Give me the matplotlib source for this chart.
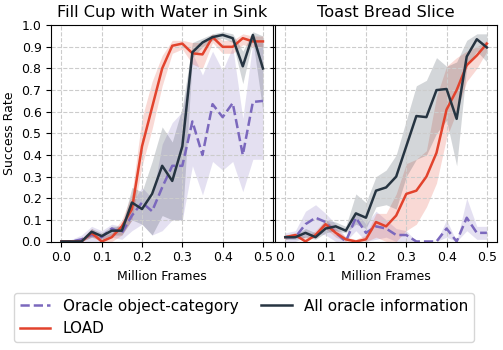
import numpy as np
import matplotlib
matplotlib.use("Agg")
import matplotlib.pyplot as plt

frames = [0.0, 0.025, 0.05, 0.075, 0.1, 0.125, 0.15, 0.175, 0.2, 0.225, 0.25,
          0.275, 0.3, 0.325, 0.35, 0.375, 0.4, 0.425, 0.45, 0.475, 0.5]

titles = ["Fill Cup with Water in Sink", "Toast Bread Slice"]
labels = ["Oracle object-category", "LOAD", "All oracle information"]

# Fill Cup with Water in Sink: mean, lower and upper band
cup_cat = [0, 0, 0.01, 0.03, 0.02, 0.06, 0.04, 0.12, 0.18, 0.14, 0.25,
           0.35, 0.35, 0.555, 0.40, 0.635, 0.575, 0.64, 0.40, 0.645, 0.65]
cup_cat_lo = [0, 0, 0, 0, 0, 0.02, 0.01, 0.05, 0.08, 0.03, 0.05,
              0.1, 0.1, 0.35, 0.215, 0.37, 0.33, 0.37, 0.23, 0.38, 0.38]
cup_cat_hi = [0, 0.01, 0.03, 0.07, 0.05, 0.08, 0.07, 0.18, 0.25, 0.2, 0.45,
              0.55, 0.6, 0.87, 0.77, 0.88, 0.79, 0.9, 0.57, 0.92, 0.92]
cup_load = [0, 0, 0, 0.04, 0.0, 0.02, 0.07, 0.15, 0.44, 0.62, 0.80,
            0.905, 0.915, 0.87, 0.865, 0.945, 0.90, 0.90, 0.94, 0.925, 0.925]
cup_load_lo = [0, 0, 0, 0.02, 0, 0, 0.03, 0.1, 0.35, 0.52, 0.72,
               0.87, 0.89, 0.82, 0.8, 0.92, 0.87, 0.87, 0.91, 0.9, 0.9]
cup_load_hi = [0, 0, 0.01, 0.06, 0.02, 0.04, 0.1, 0.22, 0.57, 0.74, 0.86,
               0.93, 0.93, 0.92, 0.92, 0.96, 0.93, 0.93, 0.96, 0.95, 0.95]
cup_all = [0, 0, 0, 0.045, 0.025, 0.05, 0.05, 0.18, 0.15, 0.22, 0.35,
           0.28, 0.44, 0.875, 0.92, 0.945, 0.955, 0.94, 0.81, 0.955, 0.80]
cup_all_lo = [0, 0, 0, 0.02, 0.01, 0.03, 0.03, 0.1, 0.08, 0.03, 0.12,
              0.1, 0.1, 0.85, 0.9, 0.93, 0.94, 0.92, 0.73, 0.93, 0.6]
cup_all_hi = [0, 0, 0.01, 0.06, 0.04, 0.07, 0.07, 0.25, 0.23, 0.37, 0.53,
              0.46, 0.62, 0.92, 0.94, 0.96, 0.97, 0.96, 0.88, 0.97, 0.95]

# Toast Bread Slice
toast_cat = [0.02, 0.02, 0.08, 0.11, 0.09, 0.04, 0.0, 0.11, 0.04, 0.07, 0.06,
             0.03, 0.03, 0.0, 0.0, 0.0, 0.06, 0.0, 0.11, 0.04, 0.04]
toast_cat_lo = [0, 0, 0.02, 0.04, 0.03, 0, 0, 0.05, 0, 0.01, 0.02,
                0, 0, 0, 0, 0, 0.02, 0, 0.05, 0.01, 0.01]
toast_cat_hi = [0.04, 0.05, 0.14, 0.17, 0.13, 0.08, 0.02, 0.14, 0.08, 0.14, 0.1,
                0.06, 0.05, 0, 0, 0, 0.1, 0, 0.2, 0.07, 0.07]
toast_load = [0.02, 0.03, 0.0, 0.03, 0.08, 0.04, 0.01, 0.0, 0.01, 0.09, 0.07,
              0.12, 0.22, 0.235, 0.30, 0.41, 0.61, 0.70, 0.815, 0.86, 0.915]
toast_load_lo = [0.01, 0.02, 0, 0.02, 0.06, 0.02, 0, 0, 0, 0.02, 0,
                 0, 0.05, 0.08, 0.16, 0.27, 0.48, 0.6, 0.74, 0.8, 0.88]
toast_load_hi = [0.03, 0.04, 0.02, 0.05, 0.1, 0.06, 0.02, 0.01, 0.03, 0.13, 0.13,
                 0.22, 0.36, 0.38, 0.42, 0.67, 0.81, 0.85, 0.88, 0.9, 0.93]
toast_all = [0.02, 0.02, 0.04, 0.02, 0.06, 0.07, 0.05, 0.13, 0.11, 0.235, 0.25,
             0.30, 0.44, 0.58, 0.575, 0.70, 0.705, 0.567, 0.855, 0.935, 0.897]
toast_all_lo = [0.01, 0.01, 0.02, 0.01, 0.04, 0.05, 0.04, 0.08, 0.06, 0.16, 0.17,
                0.15, 0.3, 0.38, 0.4, 0.5, 0.56, 0.35, 0.81, 0.88, 0.83]
toast_all_hi = [0.03, 0.03, 0.06, 0.04, 0.1, 0.09, 0.07, 0.22, 0.18, 0.3, 0.33,
                0.4, 0.56, 0.72, 0.745, 0.85, 0.81, 0.83, 0.93, 0.96, 0.96]

colors = ["#7b68bd", "#e2432d", "#263441"]
styles = ["--", "-", "-"]

panels = [
    [(cup_cat, cup_cat_lo, cup_cat_hi), (cup_load, cup_load_lo, cup_load_hi),
     (cup_all, cup_all_lo, cup_all_hi)],
    [(toast_cat, toast_cat_lo, toast_cat_hi), (toast_load, toast_load_lo, toast_load_hi),
     (toast_all, toast_all_lo, toast_all_hi)],
]

fig, axes = plt.subplots(1, 2, figsize=(5.03, 3.5), dpi=100, sharey=True)
fig.subplots_adjust(left=0.102, right=0.988, top=0.928, bottom=0.31, wspace=0.01)

for ax, title, series in zip(axes, titles, panels):
    for (m, lo, hi), c, ls, lab in zip(series, colors, styles, labels):
        ax.fill_between(frames, lo, hi, color=c, alpha=0.2, linewidth=0)
        ax.plot(frames, m, color=c, linestyle=ls, linewidth=1.8, label=lab)
    ax.set_title(title, fontsize=11.6)
    ax.set_xticks([0, 0.1, 0.2, 0.3, 0.4, 0.5])
    ax.set_xticklabels(["0.0", "0.1", "0.2", "0.3", "0.4", "0.5"])
    ax.set_xlabel("Million Frames", fontsize=9)
    ax.set_ylim(0, 1.0)
    ax.set_yticks(np.arange(0, 1.01, 0.1))
    ax.grid(True, linestyle="--", color="#cccccc", linewidth=0.8)
    ax.tick_params(labelsize=9)

axes[0].set_yticklabels(["%.1f" % v for v in np.arange(0, 1.01, 0.1)])
axes[0].set_ylabel("Success Rate", fontsize=9)

handles, labs = axes[0].get_legend_handles_labels()
fig.legend(handles, labs, loc="lower center", ncol=2, fontsize=11,
           bbox_to_anchor=(0.485, 0.0), columnspacing=1.5)

fig.savefig("out.png", dpi=100)
